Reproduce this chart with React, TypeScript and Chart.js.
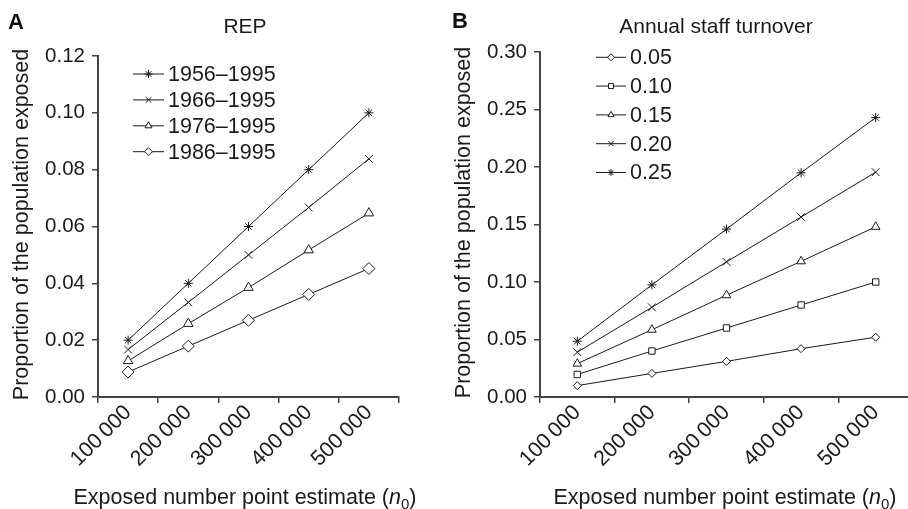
import React, { useEffect, useRef } from 'react';
import { Chart, registerables } from 'chart.js';
import { drawPoint } from 'chart.js/helpers';

Chart.register(...registerables);

const FONT = '"Liberation Sans", Arial, Helvetica, sans-serif';
const INK = '#1a1a1a';
const AXIS = '#444';

// Categories (exposed number point estimate)
const categories = ['100\u2009000', '200\u2009000', '300\u2009000', '400\u2009000', '500\u2009000'];

// Panel A: REP
const repLabels = ['1956–1995', '1966–1995', '1976–1995', '1986–1995'];
const rep1956 = [0.02, 0.04, 0.06, 0.08, 0.1];
const rep1966 = [0.0167, 0.0333, 0.05, 0.0667, 0.0838];
const rep1976 = [0.0127, 0.0258, 0.0385, 0.0517, 0.0647];
const rep1986 = [0.0088, 0.0179, 0.027, 0.0361, 0.0452];

// Panel B: Annual staff turnover
const turnoverLabels = ['0.05', '0.10', '0.15', '0.20', '0.25'];
const t005 = [0.0099, 0.0205, 0.031, 0.042, 0.052];
const t010 = [0.0196, 0.04, 0.06, 0.08, 0.1];
const t015 = [0.029, 0.0585, 0.0885, 0.118, 0.148];
const t020 = [0.039, 0.078, 0.1175, 0.1565, 0.1955];
const t025 = [0.0485, 0.0975, 0.146, 0.195, 0.243];

const yTitle = 'Proportion of the population exposed';
const xTitleMain = 'Exposed number point estimate (';
const xTitleVar = 'n';
const xTitleSub = '0';
const xTitleEnd = ')';

const panelPlugin = {
  id: 'panel',
  afterDraw(chart: any, _args: any, o: any) {
    const ctx = chart.ctx as CanvasRenderingContext2D;
    const ca = chart.chartArea;
    ctx.save();
    ctx.fillStyle = '#111';
    ctx.textBaseline = 'alphabetic';
    // panel letter
    ctx.font = `bold 22px ${FONT}`;
    ctx.textAlign = 'left';
    ctx.fillText(o.letter, o.letterX, o.letterY);
    // title
    ctx.fillStyle = INK;
    ctx.font = `21px ${FONT}`;
    ctx.textAlign = 'center';
    ctx.fillText(o.title, o.titleX, o.titleY);
    // y title
    ctx.save();
    ctx.translate(o.yTitleX, (ca.top + ca.bottom) / 2 - 2);
    ctx.rotate(-Math.PI / 2);
    ctx.font = `21.5px ${FONT}`;
    ctx.textAlign = 'center';
    ctx.fillText(yTitle, 0, 0);
    ctx.restore();
    // x title (rich text)
    const fN = `21.5px ${FONT}`;
    const fI = `italic 21.5px ${FONT}`;
    const fS = `15px ${FONT}`;
    ctx.textAlign = 'left';
    ctx.font = fN;
    const w1 = ctx.measureText(xTitleMain).width;
    const w4 = ctx.measureText(xTitleEnd).width;
    ctx.font = fI;
    const w2 = ctx.measureText(xTitleVar).width;
    ctx.font = fS;
    const w3 = ctx.measureText(xTitleSub).width;
    let x = o.xTitleX - (w1 + w2 + w3 + w4) / 2;
    const y = o.xTitleY;
    ctx.font = fN;
    ctx.fillText(xTitleMain, x, y);
    x += w1;
    ctx.font = fI;
    ctx.fillText(xTitleVar, x, y);
    x += w2;
    ctx.font = fS;
    ctx.fillText(xTitleSub, x, y + 5);
    x += w3;
    ctx.font = fN;
    ctx.fillText(xTitleEnd, x, y);
    // legend
    chart.data.datasets.forEach((ds: any, i: number) => {
      const ly = o.legendY + i * o.legendGap;
      ctx.strokeStyle = INK;
      ctx.lineWidth = 1;
      ctx.beginPath();
      ctx.moveTo(o.legendX, ly);
      ctx.lineTo(o.legendX + o.legendLine, ly);
      ctx.stroke();
      ctx.fillStyle = '#fff';
      ctx.strokeStyle = INK;
      drawPoint(ctx, { pointStyle: ds.pointStyle, radius: o.legendRadius, rotation: 0, borderWidth: 1 } as any,
        o.legendX + o.legendLine / 2, ly);
      ctx.fillStyle = INK;
      ctx.font = `21.5px ${FONT}`;
      ctx.textAlign = 'left';
      ctx.textBaseline = 'middle';
      ctx.fillText(ds.label, o.legendX + o.legendLine + 4, ly + 1);
      ctx.textBaseline = 'alphabetic';
    });
    ctx.restore();
  },
};

function makeDataset(label: string, data: number[], style: string, radius: number) {
  return {
    label,
    data,
    borderColor: INK,
    borderWidth: 1,
    pointStyle: style,
    pointRadius: radius,
    pointBorderWidth: 1,
    pointBorderColor: INK,
    pointBackgroundColor: '#fff',
    tension: 0,
    fill: false,
  };
}

function makeOptions(p: any) {
  return {
    responsive: false,
    animation: false as const,
    devicePixelRatio: 1,
    layout: { padding: { left: p.padLeft, top: p.padTop, right: p.padRight, bottom: 0 } },
    plugins: {
      legend: { display: false },
      tooltip: { enabled: false },
      title: { display: false },
      panel: p.panel,
    },
    scales: {
      x: {
        type: 'category',
        offset: true,
        grid: { offset: true, drawOnChartArea: false, drawTicks: true, tickLength: 6, color: AXIS, lineWidth: 1.5 },
        border: { display: true, color: AXIS, width: 2 },
        ticks: {
          minRotation: 45,
          maxRotation: 45,
          autoSkip: false,
          padding: -3,
          color: INK,
          font: { family: FONT, size: 21.5 },
        },
        afterFit(scale: any) {
          scale.height = p.xHeight;
        },
      },
      y: {
        type: 'linear',
        min: 0,
        max: p.yMax,
        grid: { drawOnChartArea: false, drawTicks: true, tickLength: 6, color: AXIS, lineWidth: 1.5 },
        border: { display: true, color: AXIS, width: 2 },
        ticks: {
          stepSize: p.yStep,
          padding: 7,
          color: INK,
          font: { family: FONT, size: 20.5 },
          callback: (v: any) => Number(v).toFixed(2),
        },
        afterFit(scale: any) {
          scale.width = p.yWidth;
        },
      },
    },
  };
}

export default function App() {
  const refA = useRef<HTMLCanvasElement>(null);
  const refB = useRef<HTMLCanvasElement>(null);

  useEffect(() => {
    const chartA = new Chart(refA.current as HTMLCanvasElement, {
      type: 'line',
      data: {
        labels: categories,
        datasets: [
          makeDataset(repLabels[0], rep1956, 'star', 4.5),
          makeDataset(repLabels[1], rep1966, 'crossRot', 5.5),
          makeDataset(repLabels[2], rep1976, 'triangle', 5.5),
          makeDataset(repLabels[3], rep1986, 'rectRot', 6),
        ],
      },
      options: makeOptions({
        padLeft: 0,
        padTop: 56,
        padRight: 908 - 399,
        xHeight: 509 - 397,
        yWidth: 98,
        yMax: 0.12,
        yStep: 0.02,
        panel: {
          letter: 'A', letterX: 8, letterY: 29,
          title: 'REP', titleX: 245, titleY: 33,
          yTitleX: 28,
          xTitleX: 245, xTitleY: 504,
          legendX: 133, legendY: 74, legendGap: 25.9, legendLine: 31, legendRadius: 4,
        },
      }) as any,
      plugins: [panelPlugin],
    });
    const chartB = new Chart(refB.current as HTMLCanvasElement, {
      type: 'line',
      data: {
        labels: categories,
        datasets: [
          makeDataset(turnoverLabels[0], t005, 'rectRot', 4),
          makeDataset(turnoverLabels[1], t010, 'rect', 4.5),
          makeDataset(turnoverLabels[2], t015, 'triangle', 5),
          makeDataset(turnoverLabels[3], t020, 'crossRot', 5.5),
          makeDataset(turnoverLabels[4], t025, 'star', 4.5),
        ],
      },
      options: makeOptions({
        padLeft: 540 - 92,
        padTop: 52,
        padRight: 924 - 913,
        xHeight: 509 - 397,
        yWidth: 92,
        yMax: 0.3,
        yStep: 0.05,
        panel: {
          letter: 'B', letterX: 452, letterY: 28,
          title: 'Annual staff turnover', titleX: 716, titleY: 33,
          yTitleX: 470,
          xTitleX: 725, xTitleY: 504,
          legendX: 596, legendY: 57.3, legendGap: 28.8, legendLine: 30, legendRadius: 3.5,
        },
      }) as any,
      plugins: [panelPlugin],
    });
    return () => {
      chartA.destroy();
      chartB.destroy();
    };
  }, []);

  return (
    <div style={{ position: 'absolute', left: 0, top: 0, width: 908, height: 509, overflow: 'hidden', background: '#fff' }}>
      <canvas ref={refA} width={908} height={509} style={{ position: 'absolute', left: 0, top: 0 }} />
      <canvas ref={refB} width={924} height={509} style={{ position: 'absolute', left: 0, top: 0 }} />
    </div>
  );
}
